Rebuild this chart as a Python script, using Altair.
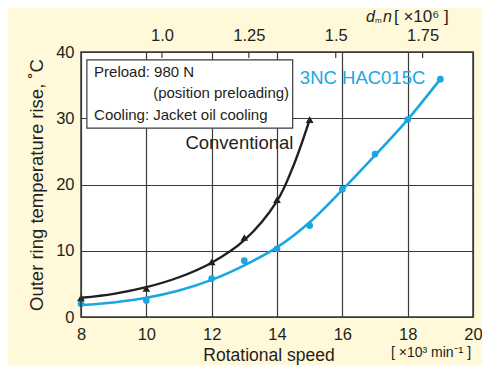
import altair as alt
import pandas as pd

# ---- data ----
conv_x = [8, 10, 12, 13, 14, 15]
conv_y = [2.9, 4.3, 8.3, 12.0, 17.7, 29.8]
conv_curve_x = [8, 9, 10, 11, 12, 13, 14, 14.5, 15]
conv_curve_y = [2.9, 3.5, 4.5, 6.0, 8.2, 11.6, 17.5, 22.8, 29.8]

hac_x = [8, 10, 12, 13, 14, 15, 16, 17, 18, 19]
hac_y = [2.0, 2.5, 5.8, 8.5, 10.3, 13.8, 19.3, 24.6, 29.8, 35.9]
hac_curve_x = [8, 9, 10, 11, 12, 13, 14, 15, 16, 17, 18, 19]
hac_curve_y = [1.8, 2.2, 2.9, 4.0, 5.6, 7.8, 10.5, 14.3, 19.2, 24.4, 29.8, 35.9]

x_ticks = [8, 10, 12, 14, 16, 18, 20]
y_ticks = [0, 10, 20, 30, 40]
dmn_ticks = [1.0, 1.25, 1.5, 1.75]
dmn_domain = [0.767, 1.895]  # dmn at 8 and 20 x10^3 min^-1

BLACK = "#231F20"
BLUE = "#1AA7E1"
GRID = "#3a3a3a"
BG = "#FFF9DA"
FONT = "Liberation Sans"

W, H = 392, 265

xs = alt.Scale(domain=[8, 20], nice=False, zero=False)
ys = alt.Scale(domain=[0, 40], nice=False)

base_x_axis = alt.Axis(values=x_ticks, grid=True, gridColor=GRID, gridWidth=1.2,
                       gridOpacity=1, ticks=False, domain=False, labelFontSize=16.5,
                       labelFont=FONT, labelColor=BLACK, labelPadding=9, title=None,
                       labelFlush=False)
base_y_axis = alt.Axis(values=y_ticks, grid=True, gridColor=GRID, gridWidth=1.2,
                       gridOpacity=1, ticks=False, domain=False, labelFontSize=16.5,
                       labelFont=FONT, labelColor=BLACK, labelPadding=7,
                       title="Outer ring temperature rise, ˚C", titleFontSize=18.5,
                       titleFont=FONT, titleFontWeight="normal", titleColor=BLACK,
                       titlePadding=9)

conv_df = pd.DataFrame({"x": conv_x, "y": conv_y})
conv_curve = pd.DataFrame({"x": conv_curve_x, "y": conv_curve_y})
hac_df = pd.DataFrame({"x": hac_x, "y": hac_y})
hac_curve = pd.DataFrame({"x": hac_curve_x, "y": hac_curve_y})

grid_layer = alt.Chart(hac_df).mark_point(opacity=0).encode(
    x=alt.X("x:Q", scale=xs, axis=base_x_axis),
    y=alt.Y("y:Q", scale=ys, axis=base_y_axis),
)

hac_line = alt.Chart(hac_curve).mark_line(color=BLUE, strokeWidth=2.6, interpolate="catmull-rom").encode(
    x=alt.X("x:Q", scale=xs), y=alt.Y("y:Q", scale=ys))
hac_pts = alt.Chart(hac_df).mark_point(shape="circle", filled=True, color=BLUE, size=45, opacity=1).encode(
    x=alt.X("x:Q", scale=xs), y=alt.Y("y:Q", scale=ys))

conv_line = alt.Chart(conv_curve).mark_line(color=BLACK, strokeWidth=2.4, interpolate="catmull-rom").encode(
    x=alt.X("x:Q", scale=xs), y=alt.Y("y:Q", scale=ys))
conv_pts = alt.Chart(conv_df).mark_point(shape="triangle-up", filled=True, color=BLACK, size=60, opacity=1).encode(
    x=alt.X("x:Q", scale=xs), y=alt.Y("y:Q", scale=ys))

# legend box
box_df = pd.DataFrame({"x": [8.18], "x2": [14.48], "y": [38.8], "y2": [28.5]})
box = alt.Chart(box_df).mark_rect(fill="white", stroke=GRID, strokeWidth=1.2).encode(
    x=alt.X("x:Q", scale=xs), x2="x2:Q", y=alt.Y("y:Q", scale=ys), y2="y2:Q")

notes_df = pd.DataFrame({
    "x": [8.4, 14.37, 8.4],
    "y": [37.0, 33.8, 30.45],
    "t": ["Preload: 980 N", "(position preloading)", "Cooling: Jacket oil cooling"],
    "a": ["left", "right", "left"],
})
notes_left = alt.Chart(notes_df[notes_df.a == "left"]).mark_text(
    align="left", baseline="middle", font=FONT, fontSize=15, color=BLACK).encode(
    x=alt.X("x:Q", scale=xs), y=alt.Y("y:Q", scale=ys), text="t:N")
notes_right = alt.Chart(notes_df[notes_df.a == "right"]).mark_text(
    align="right", baseline="middle", font=FONT, fontSize=15, color=BLACK).encode(
    x=alt.X("x:Q", scale=xs), y=alt.Y("y:Q", scale=ys), text="t:N")

lab_df = pd.DataFrame({"x": [12.85, 16.62], "y": [26.3, 36.1],
                       "t": ["Conventional", "3NC HAC015C"], "c": [BLACK, BLUE]})
series_labels = alt.Chart(lab_df).mark_text(
    align="center", baseline="middle", font=FONT, fontSize=18.5).encode(
    x=alt.X("x:Q", scale=xs), y=alt.Y("y:Q", scale=ys), text="t:N",
    color=alt.Color("c:N", scale=None))

# frame
frame = alt.Chart(pd.DataFrame({"a": [0]})).mark_rect(
    fill=None, stroke=GRID, strokeWidth=1.5).encode(
    x=alt.value(0), x2=alt.value(W), y=alt.value(0), y2=alt.value(H))

# x titles
xt = alt.Chart(pd.DataFrame({"t": ["Rotational speed"]})).mark_text(
    font=FONT, fontSize=17.5, color=BLACK, align="center", baseline="middle").encode(
    x=alt.value(188), y=alt.value(304), text="t:N")
xu = alt.Chart(pd.DataFrame({"t": ["[ ×10³ min⁻¹ ]"]})).mark_text(
    font=FONT, fontSize=14, color=BLACK, align="center", baseline="middle").encode(
    x=alt.value(350), y=alt.value(301), text="t:N")

# top axis title dmn [x10^6]
t_d = alt.Chart(pd.DataFrame({"t": ["d"]})).mark_text(
    font=FONT, fontSize=16, fontStyle="italic", color=BLACK, align="left", baseline="middle").encode(
    x=alt.value(285), y=alt.value(-35), text="t:N")
t_m = alt.Chart(pd.DataFrame({"t": ["m"]})).mark_text(
    font=FONT, fontSize=8, color=BLACK, align="left", baseline="middle").encode(
    x=alt.value(294), y=alt.value(-31), text="t:N")
t_n = alt.Chart(pd.DataFrame({"t": ["n"]})).mark_text(
    font=FONT, fontSize=16, fontStyle="italic", color=BLACK, align="left", baseline="middle").encode(
    x=alt.value(302), y=alt.value(-35), text="t:N")
t_u = alt.Chart(pd.DataFrame({"t": ["[ ×10⁶ ]"]})).mark_text(
    font=FONT, fontSize=17, color=BLACK, align="left", baseline="middle").encode(
    x=alt.value(313), y=alt.value(-35), text="t:N")

main = alt.layer(grid_layer, box, notes_left, notes_right, series_labels,
                 hac_line, hac_pts, conv_line, conv_pts, frame, xt, xu,
                 t_d, t_m, t_n, t_u)

# top dmn axis
dmn_df = pd.DataFrame({"d": dmn_ticks})
dscale = alt.Scale(domain=dmn_domain, nice=False, zero=False)
top_axis = alt.Axis(orient="top", values=dmn_ticks, grid=False, ticks=False, domain=False,
                    labelFontSize=16.5, labelFont=FONT, labelColor=BLACK, labelPadding=9,
                    title=None, labelExpr="datum.value == 1 ? '1.0' : format(datum.value, '.3~')")
top_ticks = alt.Chart(dmn_df).mark_rule(color=GRID, strokeWidth=1.2).encode(
    x=alt.X("d:Q", scale=dscale, axis=top_axis),
    y=alt.value(0), y2=alt.value(6))

chart = alt.layer(main, top_ticks).resolve_scale(x="independent").properties(
    width=W, height=H,
    background=BG,
    padding={"left": 73, "top": 44, "right": 9, "bottom": 48},
    autosize=alt.AutoSizeParams(type="none"),
).configure_view(stroke=None, fill="white")

chart.save("out.html", embed_options={"renderer": "svg", "actions": False})
